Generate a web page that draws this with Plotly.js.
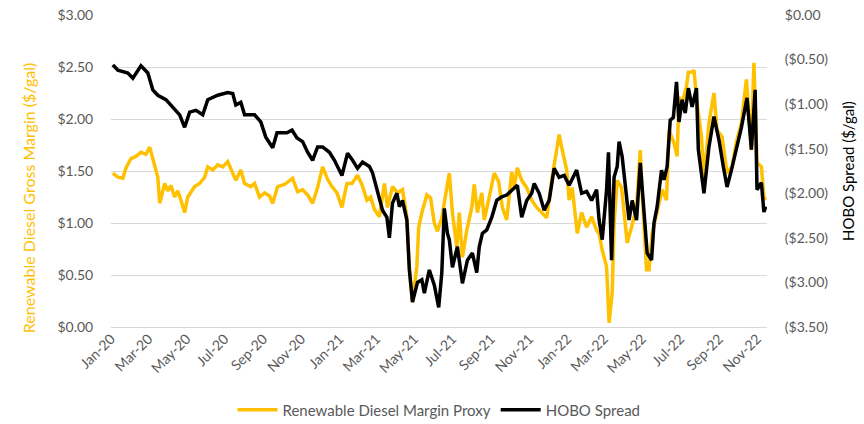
<!DOCTYPE html>
<html>
<head>
<meta charset="utf-8">
<script src="https://cdn.plot.ly/plotly-3.0.1.min.js"></script>
<style>
  html, body { margin: 0; padding: 0; background: #ffffff; }
  #chart { width: 864px; height: 424px; }
</style>
</head>
<body>
<div id="chart"></div>
<script>
// Renewable Diesel Margin Proxy ($/gal, left axis)
const rdDates = [
  '2020-01-04','2020-01-12','2020-01-20','2020-01-25','2020-02-02','2020-02-10','2020-02-18','2020-02-26',
  '2020-03-03','2020-03-08','2020-03-16','2020-03-19','2020-03-27','2020-04-01','2020-04-06','2020-04-12',
  '2020-04-17','2020-04-22','2020-04-28','2020-05-03','2020-05-14','2020-05-22','2020-05-30','2020-06-04',
  '2020-06-12','2020-06-20','2020-06-28','2020-07-06','2020-07-14','2020-07-19','2020-07-27','2020-08-02',
  '2020-08-12','2020-08-18','2020-08-26','2020-09-03','2020-09-11','2020-09-16','2020-09-24','2020-10-05',
  '2020-10-18','2020-10-26','2020-11-03','2020-11-11','2020-11-19','2020-11-27','2020-12-05','2020-12-13',
  '2020-12-20','2020-12-28','2021-01-05','2021-01-13','2021-01-21','2021-01-30','2021-02-06','2021-02-14',
  '2021-02-20','2021-02-26','2021-03-06','2021-03-14','2021-03-19','2021-03-27','2021-04-04','2021-04-12',
  '2021-04-19','2021-04-23','2021-04-28','2021-05-05','2021-05-08','2021-05-13','2021-05-21','2021-05-27',
  '2021-06-02','2021-06-07','2021-06-14','2021-06-22','2021-06-26','2021-07-01','2021-07-08','2021-07-12',
  '2021-07-17','2021-07-24','2021-08-01','2021-08-05','2021-08-10','2021-08-17','2021-08-21','2021-08-29',
  '2021-09-06','2021-09-13','2021-09-19','2021-09-26','2021-10-04','2021-10-08','2021-10-13','2021-10-20',
  '2021-10-28','2021-11-05','2021-11-13','2021-11-21','2021-11-29','2021-12-07','2021-12-15','2021-12-19',
  '2021-12-24','2021-12-31','2022-01-04','2022-01-09','2022-01-17','2022-01-24','2022-02-01','2022-02-09',
  '2022-02-17','2022-02-21','2022-02-26','2022-03-05','2022-03-09','2022-03-14','2022-03-17','2022-03-22',
  '2022-03-29','2022-04-02','2022-04-07','2022-04-14','2022-04-22','2022-04-28','2022-05-01','2022-05-08',
  '2022-05-12','2022-05-17','2022-05-25','2022-06-02','2022-06-09','2022-06-13','2022-06-21','2022-06-26',
  '2022-06-29','2022-07-04','2022-07-11','2022-07-14','2022-07-20','2022-07-23','2022-07-28','2022-08-04',
  '2022-08-08','2022-08-16','2022-08-24','2022-08-29','2022-09-06','2022-09-14','2022-09-22','2022-09-29',
  '2022-10-07','2022-10-15','2022-10-23','2022-10-27','2022-11-01','2022-11-08','2022-11-12','2022-11-15'
];
const rdValues = [
  1.48,1.44,1.43,1.53,1.62,1.64,1.68,1.66,
  1.73,1.61,1.44,1.19,1.38,1.31,1.36,1.25,
  1.31,1.22,1.10,1.25,1.35,1.38,1.44,1.54,
  1.51,1.56,1.54,1.59,1.49,1.41,1.51,1.38,
  1.35,1.38,1.25,1.29,1.26,1.19,1.35,1.37,
  1.43,1.30,1.32,1.27,1.19,1.34,1.54,1.42,
  1.35,1.29,1.15,1.38,1.38,1.46,1.37,1.22,
  1.25,1.13,1.06,1.38,1.15,1.35,1.29,1.32,
  1.06,0.58,0.24,0.58,0.96,1.10,1.27,1.24,
  1.00,0.92,1.05,1.35,1.48,1.10,0.77,1.10,
  0.67,0.93,1.15,1.37,1.10,1.29,1.03,1.25,
  1.48,1.40,1.15,1.03,1.49,1.35,1.53,1.41,
  1.34,1.22,1.15,1.10,1.05,1.41,1.70,1.85,
  1.70,1.51,1.22,1.34,0.90,1.10,0.96,1.06,
  0.93,0.90,0.74,0.58,0.04,0.33,1.00,1.41,
  1.34,1.10,0.81,0.96,1.15,1.70,1.29,0.55,
  0.55,0.90,1.10,1.32,1.22,1.89,1.77,1.64,
  2.21,2.15,2.31,2.45,2.45,2.47,2.15,1.83,
  1.41,1.96,2.25,1.89,1.83,1.48,1.54,1.78,
  1.96,2.38,1.70,2.54,1.58,1.54,1.25,1.22
];

// HOBO Spread ($/gal, right axis)
const hoboDates = [
  '2020-01-04','2020-01-12','2020-01-28','2020-02-05','2020-02-18','2020-02-29','2020-03-08','2020-03-16',
  '2020-03-29','2020-04-09','2020-04-20','2020-04-28','2020-05-06','2020-05-16','2020-05-27','2020-06-04',
  '2020-06-20','2020-07-06','2020-07-14','2020-07-19','2020-07-27','2020-08-02','2020-08-18','2020-08-28',
  '2020-09-05','2020-09-16','2020-09-23','2020-10-09','2020-10-17','2020-10-25','2020-11-03','2020-11-11',
  '2020-11-19','2020-11-27','2020-12-05','2020-12-16','2020-12-24','2021-01-05','2021-01-14','2021-01-22',
  '2021-01-30','2021-02-07','2021-02-18','2021-02-23','2021-03-02','2021-03-11','2021-03-18','2021-03-22',
  '2021-03-27','2021-04-03','2021-04-07','2021-04-12','2021-04-19','2021-04-23','2021-04-28','2021-05-06',
  '2021-05-13','2021-05-17','2021-05-25','2021-06-02','2021-06-09','2021-06-14','2021-06-18','2021-06-23',
  '2021-06-26','2021-07-01','2021-07-09','2021-07-17','2021-07-25','2021-08-02','2021-08-09','2021-08-13',
  '2021-08-18','2021-08-25','2021-09-02','2021-09-10','2021-09-18','2021-09-26','2021-10-05','2021-10-13',
  '2021-10-20','2021-10-28','2021-11-05','2021-11-09','2021-11-17','2021-11-25','2021-12-03','2021-12-11',
  '2021-12-19','2021-12-27','2022-01-04','2022-01-16','2022-01-24','2022-02-01','2022-02-09','2022-02-17',
  '2022-02-21','2022-02-26','2022-03-05','2022-03-08','2022-03-13','2022-03-17','2022-03-22','2022-03-25',
  '2022-03-30','2022-04-06','2022-04-10','2022-04-15','2022-04-22','2022-04-28','2022-05-04','2022-05-09',
  '2022-05-16','2022-05-20','2022-05-25','2022-06-01','2022-06-05','2022-06-10','2022-06-15','2022-06-20',
  '2022-06-25','2022-06-29','2022-07-04','2022-07-09','2022-07-14','2022-07-20','2022-07-27','2022-07-30',
  '2022-08-08','2022-08-16','2022-08-24','2022-09-01','2022-09-08','2022-09-14','2022-09-21','2022-09-29',
  '2022-10-07','2022-10-16','2022-10-23','2022-10-29','2022-11-01','2022-11-08','2022-11-12','2022-11-15'
];
const hoboValues = [
  -0.56,-0.62,-0.65,-0.71,-0.57,-0.65,-0.84,-0.90,
  -0.95,-1.03,-1.12,-1.26,-1.09,-1.07,-1.12,-0.95,
  -0.90,-0.87,-0.88,-1.01,-0.98,-1.12,-1.12,-1.20,
  -1.37,-1.49,-1.32,-1.32,-1.29,-1.38,-1.42,-1.54,
  -1.63,-1.48,-1.48,-1.54,-1.63,-1.80,-1.55,-1.63,
  -1.72,-1.65,-1.70,-1.77,-1.96,-2.19,-2.27,-2.50,
  -2.11,-2.00,-2.15,-2.08,-2.30,-2.86,-3.22,-3.00,
  -2.97,-3.12,-2.86,-3.03,-3.28,-2.89,-2.17,-2.45,
  -2.52,-2.83,-2.60,-3.01,-2.75,-2.67,-2.89,-2.60,
  -2.45,-2.41,-2.27,-2.08,-2.04,-2.02,-1.96,-1.91,
  -2.27,-2.08,-2.00,-1.89,-2.00,-2.19,-2.08,-1.72,
  -1.82,-1.80,-1.91,-1.74,-2.00,-1.98,-2.08,-1.96,
  -2.30,-2.52,-1.96,-1.54,-2.75,-1.82,-1.70,-1.42,
  -1.59,-2.04,-2.30,-2.08,-2.30,-1.66,-2.15,-2.67,
  -2.75,-2.33,-2.15,-1.74,-1.85,-1.70,-1.18,-1.15,
  -0.75,-1.20,-0.95,-1.10,-0.82,-1.03,-0.82,-1.51,
  -2.00,-1.48,-1.14,-1.40,-1.70,-1.93,-1.74,-1.51,
  -1.26,-0.93,-1.51,-0.84,-1.96,-1.88,-2.21,-2.15
];

const leftTicks = [0, 0.5, 1, 1.5, 2, 2.5, 3];
const leftTickText = ['$0.00','$0.50','$1.00','$1.50','$2.00','$2.50','$3.00'];
const rightTicks = [0, -0.5, -1, -1.5, -2, -2.5, -3, -3.5];
const rightTickText = ['$0.00','($0.50)','($1.00)','($1.50)','($2.00)','($2.50)','($3.00)','($3.50)'];

const FONT = 'Lato, "Open Sans", "Liberation Sans", sans-serif';
const GRAY = '#595959';

const traces = [
  {
    x: rdDates, y: rdValues, name: 'Renewable Diesel Margin Proxy',
    type: 'scatter', mode: 'lines', yaxis: 'y',
    line: { color: '#FFC000', width: 3.5 }
  },
  {
    x: hoboDates, y: hoboValues, name: 'HOBO Spread',
    type: 'scatter', mode: 'lines', yaxis: 'y2',
    line: { color: '#000000', width: 3.5 }
  }
];

const layout = {
  width: 864, height: 424,
  margin: { l: 111, r: 97, t: 15, b: 97, autoexpand: false },
  paper_bgcolor: '#ffffff', plot_bgcolor: '#ffffff',
  font: { family: FONT, size: 14, color: GRAY },
  showlegend: true,
  legend: {
    orientation: 'h', x: 0.5, xanchor: 'center', y: -0.266, yanchor: 'middle',
    font: { family: FONT, size: 15, color: GRAY },
    itemwidth: 40, tracegroupgap: 0
  },
  xaxis: {
    type: 'date', automargin: false,
    range: ['2020-01-01', '2022-11-17'],
    tick0: '2020-01-01', dtick: 'M2', tickformat: '%b-%y',
    tickangle: -45,
    showgrid: false, zeroline: false, showline: false,
    ticks: '', tickfont: { family: FONT, size: 14, color: GRAY }
  },
  yaxis: {
    range: [0, 3], automargin: false,
    tickvals: leftTicks, ticktext: leftTickText,
    showgrid: true, gridcolor: '#D9D9D9', gridwidth: 1,
    zeroline: true, zerolinecolor: '#D9D9D9', zerolinewidth: 1,
    showline: false,
    ticks: 'outside', ticklen: 14, tickcolor: 'rgba(0,0,0,0)',
    tickfont: { family: FONT, size: 14, color: GRAY }
  },
  yaxis2: {
    overlaying: 'y', side: 'right', automargin: false,
    range: [-3.5, 0],
    tickvals: rightTicks, ticktext: rightTickText,
    showgrid: false, zeroline: false, showline: false,
    ticks: 'outside', ticklen: 14, tickcolor: 'rgba(0,0,0,0)',
    tickfont: { family: FONT, size: 14, color: GRAY }
  },
  annotations: [
    {
      text: 'Renewable Diesel Gross Margin ($/gal)', textangle: -90,
      xref: 'paper', yref: 'paper', x: -0.1265, y: 0.413,
      xanchor: 'center', yanchor: 'middle', showarrow: false,
      font: { family: FONT, size: 16, color: '#FFC000' }
    },
    {
      text: 'HOBO Spread ($/gal)', textangle: -90,
      xref: 'paper', yref: 'paper', x: 1.1235, y: 0.5,
      xanchor: 'center', yanchor: 'middle', showarrow: false,
      font: { family: FONT, size: 15, color: '#000000' }
    }
  ]
};

Plotly.newPlot('chart', traces, layout, { displayModeBar: false, staticPlot: true });
</script>
</body>
</html>
